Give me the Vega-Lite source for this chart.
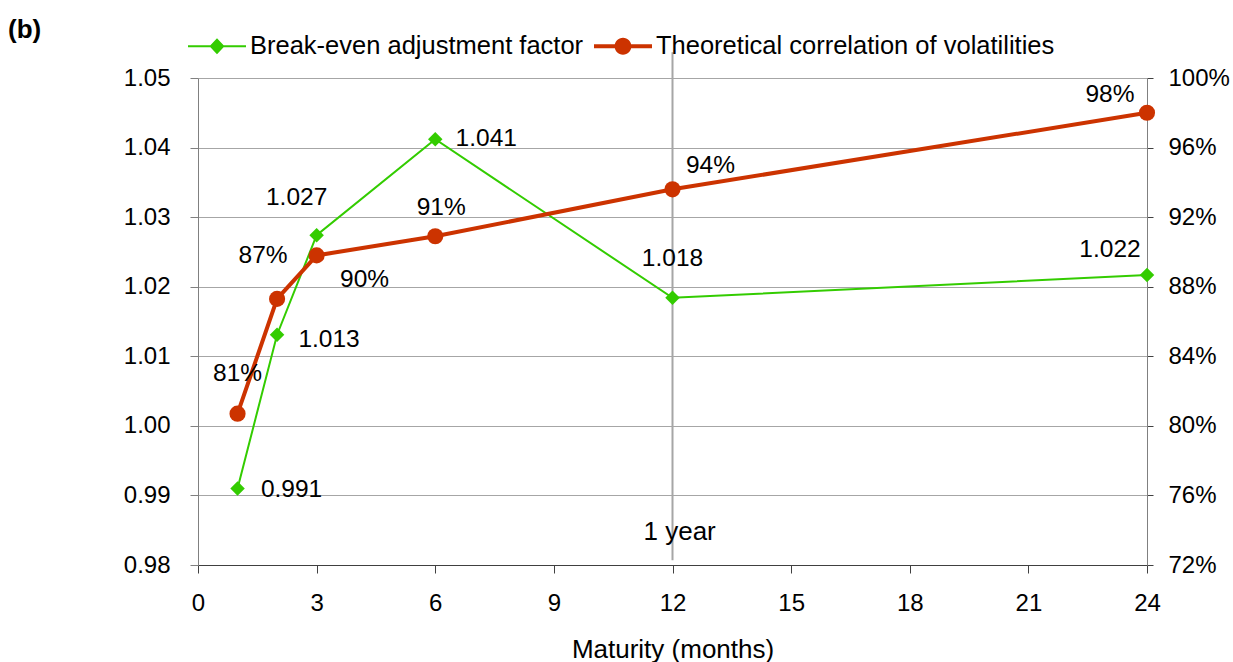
{
  "$schema": "https://vega.github.io/schema/vega-lite/v6.json",
  "width": 949,
  "height": 487,
  "autosize": {"type": "none"},
  "padding": {"left": 198, "top": 78, "right": 86, "bottom": 97},
  "background": "white",
  "title": {"text": "(b)", "anchor": "start", "frame": "group", "fontSize": 26, "fontWeight": "bold", "font": "Liberation Sans", "color": "black", "dx": -190, "dy": 26, "offset": 0},
  "data": {"values": [
    {"month": 1, "factor": 0.991, "corr": 0.807},
    {"month": 2, "factor": 1.0131, "corr": 0.873},
    {"month": 3, "factor": 1.0274, "corr": 0.898},
    {"month": 6, "factor": 1.0412, "corr": 0.909},
    {"month": 12, "factor": 1.0184, "corr": 0.936},
    {"month": 24, "factor": 1.0217, "corr": 0.980}
  ]},
  "encoding": {
    "x": {"field": "month", "type": "quantitative",
      "scale": {"domain": [0, 24], "nice": false, "zero": false},
      "axis": {"values": [0, 3, 6, 9, 12, 15, 18, 21, 24], "grid": false, "labelFlush": false, "tickSize": 8, "labelFontSize": 24, "labelPadding": 18, "title": "Maturity (months)", "titleFontSize": 26, "titleFontWeight": "normal", "titlePadding": 21, "domainColor": "#404040", "tickColor": "#404040"}}
  },
  "layer": [
    {
      "encoding": {
        "y": {"field": "factor", "type": "quantitative",
          "scale": {"domain": [0.98, 1.05], "nice": false, "zero": false},
          "axis": {"orient": "left", "title": null, "values": [0.98, 0.99, 1.0, 1.01, 1.02, 1.03, 1.04, 1.05], "format": ".2f", "grid": true, "gridColor": "#a6a6a6", "tickSize": 8, "labelPadding": 20, "labelFontSize": 24, "domainColor": "#808080", "tickColor": "#808080"}}
      },
      "layer": [
        {"transform": [{"filter": "datum.month == 12"}],
         "mark": {"type": "rule", "color": "#a6a6a6", "strokeWidth": 2},
         "encoding": {"y": {"datum": 1.0537, "type": "quantitative"}, "y2": {"datum": 0.9807}}},
        {"transform": [{"filter": "datum.month == 12"}],
         "mark": {"type": "text", "fontSize": 26, "align": "left", "dx": -29, "baseline": "middle"},
         "encoding": {"y": {"datum": 0.9847, "type": "quantitative"}, "text": {"value": "1 year"}}},
        {"mark": {"type": "line", "color": "#33CC00", "strokeWidth": 2}},
        {"mark": {"type": "point", "shape": "diamond", "filled": true, "size": 210, "color": "#33CC00", "opacity": 1}},
        {"transform": [{"filter": "datum.month == 1"}], "mark": {"type": "text", "dx": 54, "dy": 2}, "encoding": {"text": {"field": "factor", "format": ".3f"}}},
        {"transform": [{"filter": "datum.month == 2"}], "mark": {"type": "text", "dx": 52, "dy": 5}, "encoding": {"text": {"field": "factor", "format": ".3f"}}},
        {"transform": [{"filter": "datum.month == 3"}], "mark": {"type": "text", "dx": -20, "dy": -37}, "encoding": {"text": {"field": "factor", "format": ".3f"}}},
        {"transform": [{"filter": "datum.month == 6"}], "mark": {"type": "text", "dx": 51, "dy": 0}, "encoding": {"text": {"field": "factor", "format": ".3f"}}},
        {"transform": [{"filter": "datum.month == 12"}], "mark": {"type": "text", "dx": 0, "dy": -39}, "encoding": {"text": {"field": "factor", "format": ".3f"}}},
        {"transform": [{"filter": "datum.month == 24"}], "mark": {"type": "text", "dx": -37, "dy": -25}, "encoding": {"text": {"field": "factor", "format": ".3f"}}}
      ]
    },
    {
      "encoding": {
        "y": {"field": "corr", "type": "quantitative",
          "scale": {"domain": [0.72, 1.0], "nice": false, "zero": false},
          "axis": {"orient": "right", "title": null, "values": [0.72, 0.76, 0.8, 0.84, 0.88, 0.92, 0.96, 1.0], "format": ".0%", "grid": false, "tickSize": 6, "labelPadding": 15, "labelFontSize": 24, "domainColor": "#808080", "tickColor": "#404040"}}
      },
      "layer": [
        {"mark": {"type": "line", "color": "#CC3300", "strokeWidth": 4}},
        {"mark": {"type": "point", "shape": "circle", "filled": true, "size": 260, "color": "#CC3300", "opacity": 1}},
        {"transform": [{"filter": "datum.month == 1"}], "mark": {"type": "text", "dx": 0, "dy": -40}, "encoding": {"text": {"field": "corr", "format": ".0%"}}},
        {"transform": [{"filter": "datum.month == 2"}], "mark": {"type": "text", "dx": -14, "dy": -43}, "encoding": {"text": {"field": "corr", "format": ".0%"}}},
        {"transform": [{"filter": "datum.month == 3"}], "mark": {"type": "text", "dx": 48, "dy": 25}, "encoding": {"text": {"field": "corr", "format": ".0%"}}},
        {"transform": [{"filter": "datum.month == 6"}], "mark": {"type": "text", "dx": 6, "dy": -28}, "encoding": {"text": {"field": "corr", "format": ".0%"}}},
        {"transform": [{"filter": "datum.month == 12"}], "mark": {"type": "text", "dx": 38, "dy": -23}, "encoding": {"text": {"field": "corr", "format": ".0%"}}},
        {"transform": [{"filter": "datum.month == 24"}], "mark": {"type": "text", "dx": -37, "dy": -18}, "encoding": {"text": {"field": "corr", "format": ".0%"}}}
      ]
    },
    {
      "data": {"values": [
        {"series": "Break-even adjustment factor"},
        {"series": "Theoretical correlation of volatilities"}
      ]},
      "mark": {"type": "point", "filled": true, "opacity": 0, "size": 3364},
      "encoding": {
        "x": {"field": "month", "type": "quantitative"},
        "color": {"field": "series", "type": "nominal",
          "scale": {"domain": ["Break-even adjustment factor", "Theoretical correlation of volatilities"], "range": ["#33CC00", "#CC3300"]},
          "legend": {"orient": "none", "legendX": -10, "legendY": -61, "direction": "horizontal", "title": null, "labelFontSize": 25.5, "labelFont": "Liberation Sans", "labelColor": "black", "labelLimit": 600, "labelOffset": 4, "columnPadding": 10, "symbolSize": 3364, "symbolStrokeWidth": 0, "padding": 0, "encode": {"symbols": {"update": {"opacity": {"value": 1}}}}}},
        "shape": {"field": "series", "type": "nominal",
          "scale": {"domain": ["Break-even adjustment factor", "Theoretical correlation of volatilities"], "range": ["M-1,-0.035L1,-0.035L1,0.035L-1,0.035Z M0,-0.28L0.26,0L0,0.28L-0.26,0Z", "M-1,-0.07L1,-0.07L1,0.07L-1,0.07Z M-0.29,0A0.29,0.29,0,0,1,0.29,0A0.29,0.29,0,0,1,-0.29,0Z"]}}
      }
    }
  ],
  "resolve": {"scale": {"y": "independent"}},
  "config": {
    "view": {"stroke": null},
    "font": "Liberation Sans",
    "text": {"font": "Liberation Sans", "fontSize": 24.5, "color": "black"},
    "axis": {"labelFont": "Liberation Sans", "titleFont": "Liberation Sans", "labelColor": "black", "titleColor": "black"}
  }
}
